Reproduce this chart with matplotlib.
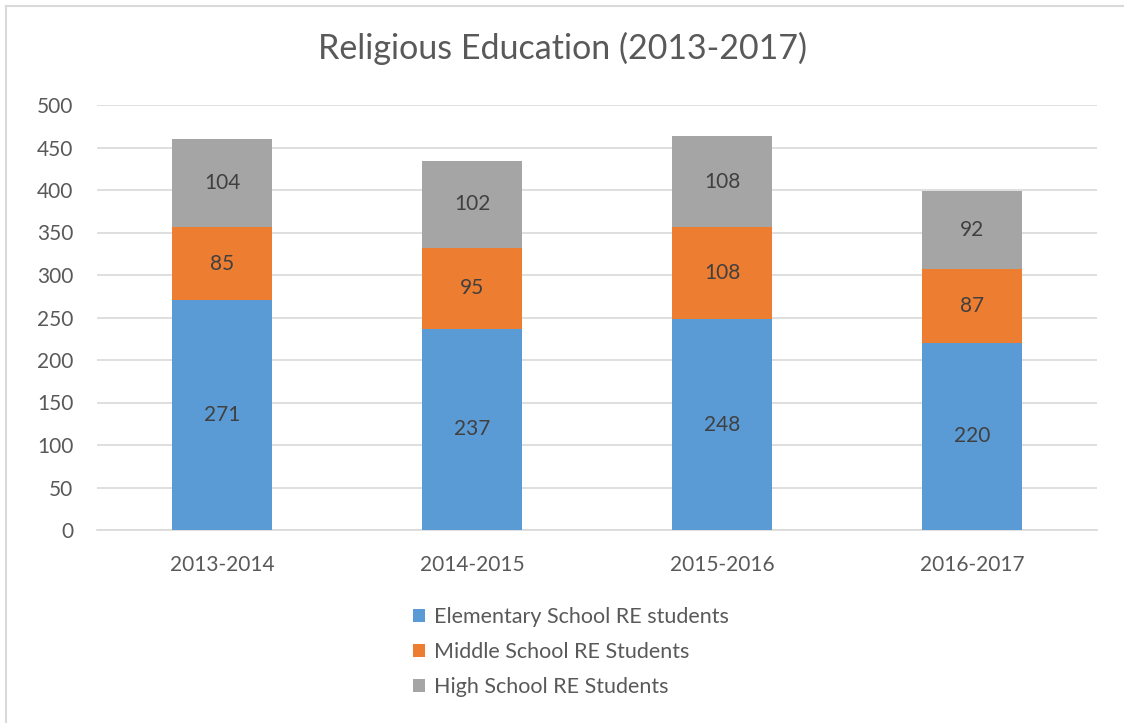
import matplotlib.pyplot as plt
import numpy as np

plt.rcParams['font.family'] = ['Lato', 'DejaVu Sans']

years = ['2013-2014', '2014-2015', '2015-2016', '2016-2017']
elementary = [271, 237, 248, 220]
middle = [85, 95, 108, 87]
high = [104, 102, 108, 92]
labels = ['Elementary School RE students', 'Middle School RE Students', 'High School RE Students']
colors = ['#5B9BD5', '#ED7D31', '#A5A5A5']

txt = '#595959'
fig = plt.figure(figsize=(11.24, 7.23), dpi=100)
ax = fig.add_axes([97/1124, 1 - 530/723, 1000/1124, 425/723])

x = np.arange(len(years))
bottom = np.zeros(len(years))
series = [elementary, middle, high]
for vals, lab, col in zip(series, labels, colors):
    bars = ax.bar(x, vals, 0.4, bottom=bottom, color=col, label=lab, zorder=3)
    ax.bar_label(bars, label_type='center', fontsize=15, color='#404040')
    bottom += np.array(vals)

ax.set_xlim(-0.5, 3.5)
ax.set_ylim(0, 500)
ax.set_yticks(range(0, 501, 50))
ax.set_xticks(x)
ax.set_xticklabels(years)
ax.grid(axis='y', color='#D9D9D9', linewidth=1.2, zorder=0)
for s in ['top', 'right', 'left']:
    ax.spines[s].set_visible(False)
ax.spines['bottom'].set_color('#D9D9D9')
ax.spines['bottom'].set_linewidth(1.2)
ax.tick_params(axis='both', length=0, labelsize=15, labelcolor=txt)
ax.tick_params(axis='y', pad=17)
ax.tick_params(axis='x', pad=18)

fig.text(0.5, 1 - 48/723, 'Religious Education (2013-2017)', ha='center', va='center',
         fontsize=24.5, color=txt)

handles, labs = ax.get_legend_handles_labels()
fig.legend(handles, labs, loc='center', bbox_to_anchor=(571/1124, 1 - 652/723),
           ncol=1, frameon=False, fontsize=15.5, labelcolor=txt,
           handlelength=0.55, handleheight=0.55, handletextpad=0.4, labelspacing=0.68)

# chart border (only top and left visible in the crop)
fig.add_artist(plt.Line2D([6/1124, 6/1124], [0, 1 - 6/723], color='#D9D9D9', linewidth=1.5))
fig.add_artist(plt.Line2D([6/1124, 1], [1 - 6/723, 1 - 6/723], color='#D9D9D9', linewidth=1.5))

fig.savefig('out.png', dpi=100)
